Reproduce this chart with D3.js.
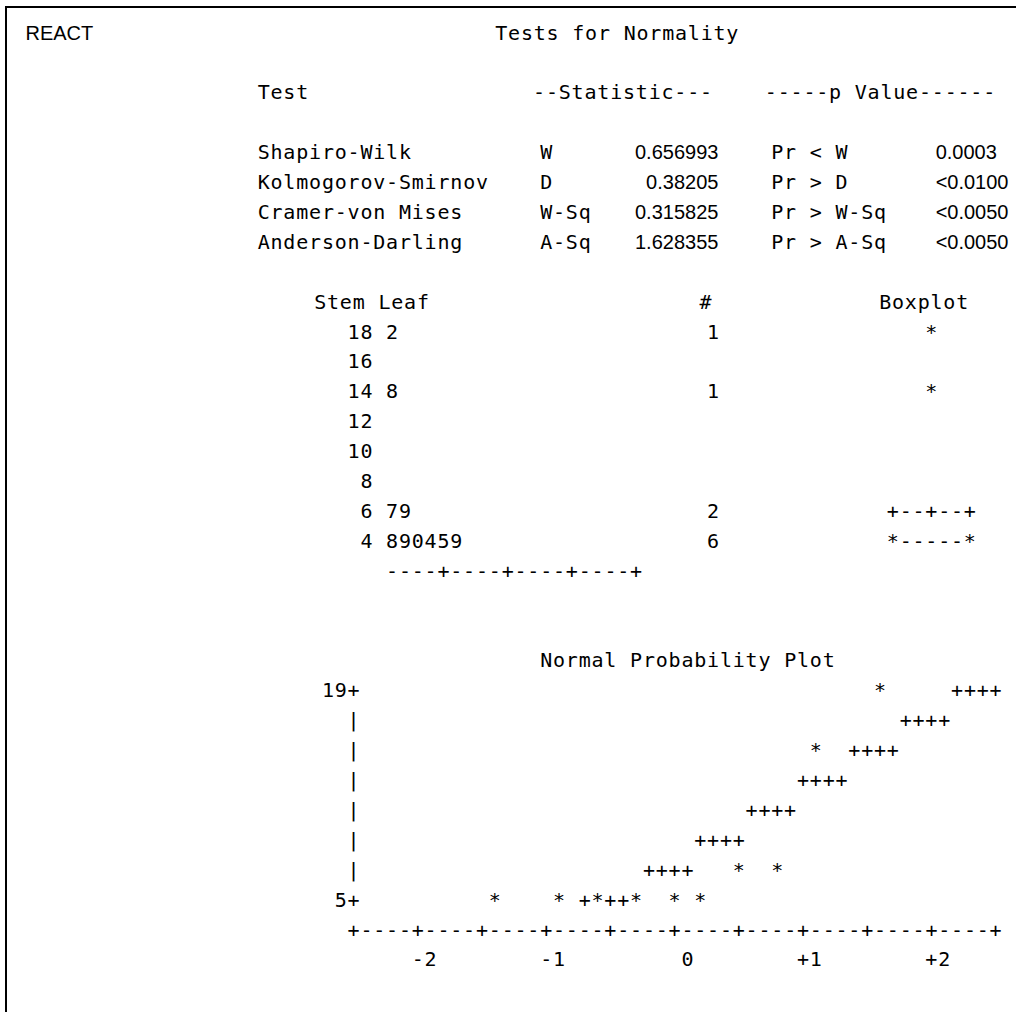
<!DOCTYPE html>
<html>
<head>
<meta charset="utf-8">
<script src="https://cdn.jsdelivr.net/npm/d3@7"></script>
<style>
  html, body { margin: 0; padding: 0; background: #fff; }
  svg { display: block; }
  text { fill: #000; }
  .mono { font-family: "DejaVu Sans Mono", monospace; font-size: 20px; letter-spacing: 0.8px; white-space: pre; }
  .prop { font-family: "Liberation Sans", Arial, sans-serif; font-size: 20px; }
</style>
</head>
<body>
<div id="chart"></div>
<script>
const byVar = "REACT";
const tableTitle = "Tests for Normality";
const tableHeads = ["Test", "--Statistic---", "-----p Value------"];
const testNames = ["Shapiro-Wilk", "Kolmogorov-Smirnov", "Cramer-von Mises", "Anderson-Darling"];
const statLabels = ["W", "D", "W-Sq", "A-Sq"];
const statValues = ["0.656993", "0.38205", "0.315825", "1.628355"];
const pLabels = ["Pr < W", "Pr > D", "Pr > W-Sq", "Pr > A-Sq"];
const pValues = ["0.0003", "<0.0100", "<0.0050", "<0.0050"];

const stemHeads = ["Stem Leaf", "#", "Boxplot"];
const stems = [18, 16, 14, 12, 10, 8, 6, 4];
const leaves = ["2", "", "8", "", "", "", "79", "890459"];
const boxRows = ["*", "", "*", "", "", "", "+--+--+", "*-----*"];

const plotTitle = "Normal Probability Plot";
const obsValues = [4.8, 4.9, 5.0, 5.4, 5.5, 5.9, 6.7, 6.9, 14.8, 18.2];
const normalScores = [-1.547, -1.0, -0.655, -0.375, -0.123, 0.123, 0.375, 0.655, 1.0, 1.547];
// reference line, as printed: value of the row and z range of its "+" run
const refLine = [
  {v: 19, z0: 2.1, z1: 2.4},
  {v: 17, z0: 1.7, z1: 2.0},
  {v: 15, z0: 1.3, z1: 1.6},
  {v: 13, z0: 0.9, z1: 1.2},
  {v: 11, z0: 0.5, z1: 0.8},
  {v: 9, z0: 0.1, z1: 0.4},
  {v: 7, z0: -0.3, z1: 0.0},
  {v: 5, z0: -0.8, z1: -0.4}
];
const yTickValues = [19, 5];
const xLabelValues = [-2, -1, 0, 1, 2];

// ---- character grid ----
const width = 1016, height = 1019;
const CW = 12.84, LH = 29.9;
const colX = d3.scaleLinear().domain([0, 1]).range([39.4, 39.4 + CW]);
const rowY = d3.scaleLinear().domain([0, 1]).range([39.5, 39.5 + LH]);

const svg = d3.select("#chart").append("svg")
  .attr("width", width)
  .attr("height", height);

// frame
svg.append("line").attr("x1", 6).attr("x2", 6).attr("y1", 6).attr("y2", 1012)
  .attr("stroke", "#000").attr("stroke-width", 2);
svg.append("line").attr("x1", 5).attr("x2", width).attr("y1", 7).attr("y2", 7)
  .attr("stroke", "#000").attr("stroke-width", 2);

const put = (str, col, row) =>
  svg.append("text")
    .attr("class", "mono")
    .attr("x", colX(col))
    .attr("y", rowY(row))
    .text(str);

// right aligned on the grid: last char sits in column endCol
const putRight = (str, endCol, row) => put(str, endCol - str.length + 1, row);

// ---- title + tests table ----
svg.append("text").attr("class", "prop")
  .attr("x", 25.5).attr("y", rowY(0))
  .text(byVar);
put(tableTitle, 35.5, 0);

put(tableHeads[0], 17, 2);
put(tableHeads[1], 38.45, 2);
put(tableHeads[2], 56.5, 2);

testNames.forEach((name, i) => {
  const r = 4 + i;
  put(name, 17, r);
  put(statLabels[i], 39, r);
  put(pLabels[i], 57, r);
  svg.append("text").attr("class", "prop")
    .attr("x", colX(53) - 1.5).attr("y", rowY(r))
    .attr("text-anchor", "end")
    .text(statValues[i]);
  svg.append("text").attr("class", "prop")
    .attr("x", colX(69.8)).attr("y", rowY(r))
    .text(pValues[i]);
});

// ---- stem and leaf + boxplot ----
put(stemHeads[0], 21.4, 9);
put(stemHeads[1], 51.4, 9);
put(stemHeads[2], 65.4, 9);

stems.forEach((s, i) => {
  const r = 10 + i;
  putRight(String(s), 25, r);
  if (leaves[i]) {
    put(leaves[i], 27, r);
    put(String(leaves[i].length), 52, r);
  }
  if (boxRows[i]) put(boxRows[i], 69 - (boxRows[i].length - 1) / 2, r);
});
const maxLeaf = d3.max(leaves, d => d.length);
const leafAxisLen = Math.ceil((maxLeaf + 1) / 5) * 5 * 2;
put(d3.range(1, leafAxisLen + 1).map(i => i % 5 === 0 ? "+" : "-").join(""), 27, 18);

// ---- normal probability plot ----
const zCol = d3.scaleLinear().domain([-2.6, 2.4]).range([24, 74]);
const vRow = d3.scaleLinear().domain([19, 5]).range([22, 29]);
const axisCol = zCol(-2.6);

put(plotTitle, 39, 21);

// vertical axis
const topRow = vRow(yTickValues[0]), botRow = vRow(yTickValues[1]);
d3.range(topRow, botRow + 1).forEach(r => {
  const tick = yTickValues.find(v => vRow(v) === r);
  if (tick !== undefined) putRight(tick + "+", axisCol, r);
  else put("|", axisCol, r);
});

// observations
const taken = new Set();
obsValues.forEach((v, i) => {
  const c = Math.round(zCol(normalScores[i]));
  const r = Math.round(vRow(v));
  taken.add(r + ":" + c);
  put("*", c, r);
});

// reference line
refLine.forEach(d => {
  const r = Math.round(vRow(d.v));
  d3.range(Math.round(zCol(d.z0)), Math.round(zCol(d.z1)) + 1).forEach(c => {
    if (!taken.has(r + ":" + c)) put("+", c, r);
  });
});

// horizontal axis
const xTicks = d3.range(-2.6, 2.41, 0.5).map(z => Math.round(zCol(z)));
put(d3.range(xTicks[0], xTicks[xTicks.length - 1] + 1)
  .map(c => xTicks.includes(c) ? "+" : "-").join(""), xTicks[0], botRow + 1);

const fmt = z => z > 0 ? "+" + z : String(z);
xLabelValues.forEach(z => putRight(fmt(z), Math.round(zCol(z)), botRow + 2));
</script>
</body>
</html>
